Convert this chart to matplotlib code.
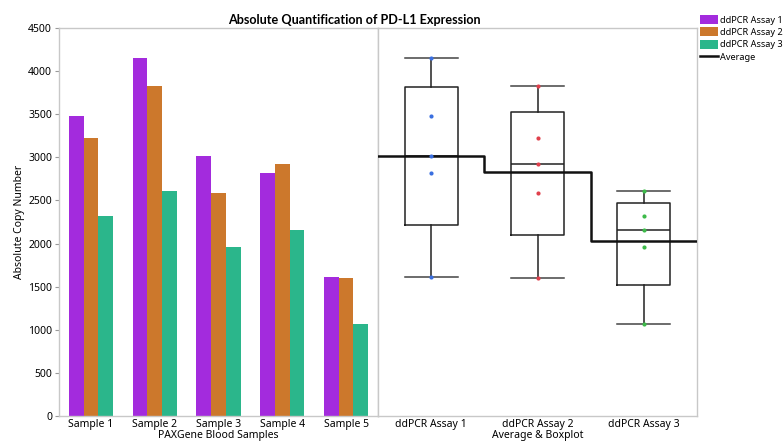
"""
PD-L1 表达绝对定量图：左侧分组柱状图，右侧箱线图 + 平均值阶梯线
"""
import numpy as np
import matplotlib
matplotlib.use("Agg")
import matplotlib.pyplot as plt
from matplotlib.patches import Patch
from matplotlib.lines import Line2D

plt.rcParams['font.family'] = ['Noto Sans', 'DejaVu Sans']

samples = ["Sample 1", "Sample 2", "Sample 3", "Sample 4", "Sample 5"]
assays = ["ddPCR Assay 1", "ddPCR Assay 2", "ddPCR Assay 3"]
assay1 = [3485, 4150, 3020, 2820, 1615]
assay2 = [3220, 3825, 2590, 2920, 1605]
assay3 = [2325, 2605, 1960, 2160, 1070]

bar_colors = ["#A32BDD", "#CC782C", "#2BB68B"]
dot_colors = ["#3A6FE0", "#E0404C", "#3DBA4A"]
spine_col = "#C8C8C8"
fs = 7.5

fig = plt.figure(figsize=(7.83, 4.41), dpi=100)
ax1 = fig.add_axes([59/783, 25/441, 319/783, 388/441])
ax2 = fig.add_axes([378/783, 25/441, 319/783, 388/441], sharey=ax1)

# 柱状图
x = np.arange(len(samples))
w = 0.23
for i, vals in enumerate([assay1, assay2, assay3]):
    ax1.bar(x + (i - 1) * w, vals, width=w, color=bar_colors[i], linewidth=0)
ax1.set_xlim(-0.5, 4.5)
ax1.set_ylim(0, 4500)
ax1.set_yticks(range(0, 4501, 500))
ax1.set_xticks(x)
ax1.set_xticklabels(samples, fontsize=fs)
ax1.tick_params(axis='x', length=0, pad=2)
ax1.tick_params(axis='y', labelsize=fs, length=3, color="#999999", pad=2)
ax1.set_xlabel("PAXGene Blood Samples", fontsize=fs, labelpad=0)
ax1.set_ylabel("Absolute Copy Number", fontsize=fs, labelpad=2)

# 箱线图，分位数按 (n+1)p 计算
data = [assay1, assay2, assay3]
stats = []
for vals in data:
    q1, med, q3 = np.percentile(vals, [25, 50, 75], method='weibull')
    stats.append(dict(med=med, q1=q1, q3=q3, whislo=min(vals), whishi=max(vals), fliers=[]))
pos = np.arange(len(assays))
line_kw = dict(color="#222222", linewidth=1.1)
cap_kw = dict(color="#444444", linewidth=1.1)
ax2.bxp(stats, positions=pos, widths=0.5, showfliers=False,
        boxprops=line_kw, whiskerprops=line_kw, capprops=cap_kw, medianprops=line_kw,
        capwidths=0.5, manage_ticks=False)
for i, vals in enumerate(data):
    ax2.scatter([pos[i]] * len(vals), vals, s=9, color=dot_colors[i], zorder=5, linewidths=0)

means = [np.mean(v) for v in data]
ax2.plot(list(pos - 0.5) + [pos[-1] + 0.5], means + [means[-1]], drawstyle='steps-post',
         color="#111111", linewidth=1.8, zorder=4)
ax2.set_xlim(-0.5, 2.5)
ax2.set_xticks(pos)
ax2.set_xticklabels(assays, fontsize=fs)
ax2.tick_params(axis='x', length=0, pad=2)
ax2.tick_params(axis='y', left=False, labelleft=False)
ax2.set_xlabel("Average & Boxplot", fontsize=fs, labelpad=0)

for ax in (ax1, ax2):
    for s in ax.spines.values():
        s.set_color(spine_col)
        s.set_linewidth(1.0)

fig.text(354/783, 1 - 20/441, "Absolute Quantification of PD-L1 Expression",
         ha='center', va='center', fontsize=9.1, fontweight='bold',
         family=['Lato', 'DejaVu Sans'])

handles = [Patch(facecolor=c, edgecolor='none') for c in bar_colors]
handles.append(Line2D([0], [0], color="#111111", linewidth=1.8))
fig.legend(handles, assays + ["Average"], loc='upper left', bbox_to_anchor=(700/783, 1 - 15/441),
           frameon=False, fontsize=6.6, handlelength=2.0, handleheight=1.1, handletextpad=0.2,
           labelspacing=0.32, borderpad=0, borderaxespad=0)

fig.savefig("out.png", dpi=100)
